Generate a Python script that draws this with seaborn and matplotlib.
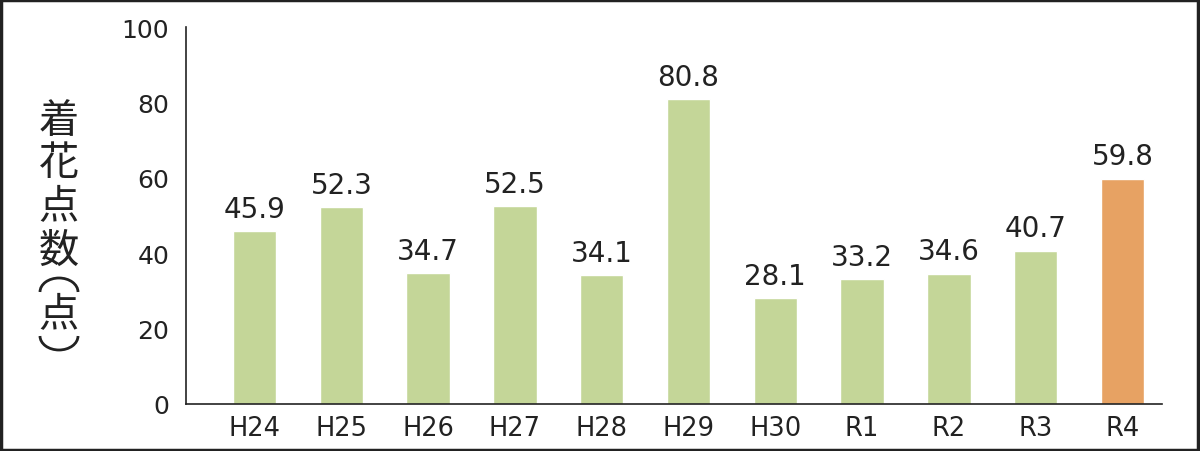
import matplotlib
matplotlib.use("Agg")
import matplotlib.pyplot as plt
import seaborn as sns
import pandas as pd
from matplotlib.patches import Rectangle, Arc

years = ["H24", "H25", "H26", "H27", "H28", "H29", "H30", "R1", "R2", "R3", "R4"]
values = [45.9, 52.3, 34.7, 52.5, 34.1, 80.8, 28.1, 33.2, 34.6, 40.7, 59.8]
ylabel_chars = ["着", "花", "点", "数", "︵", "点", "︶"]

green = "#c4d698"
orange = "#e7a263"
colors = [green] * (len(years) - 1) + [orange]

sns.set_theme(style="white")
plt.rcParams["font.family"] = ["DejaVu Sans", "Noto Sans CJK JP"]

df = pd.DataFrame({"year": years, "value": values})

fig = plt.figure(figsize=(12, 4.52), dpi=100)
ax = fig.add_axes([0.155, 0.104, 0.813, 0.834])

sns.barplot(data=df, x="year", y="value", hue="year", palette=colors,
            legend=False, width=0.5, saturation=1, ax=ax)

for i, v in enumerate(values):
    ax.text(i, v + 2.2, f"{v:.1f}", ha="center", va="bottom", fontsize=20, color="#222222")

ax.set_ylim(0, 100)
ax.set_xlim(-0.79, 10.45)
ax.set_yticks(range(0, 101, 20))
ax.tick_params(axis="y", length=0, labelsize=18, pad=12, colors="#222222")
ax.tick_params(axis="x", length=0, labelsize=18.5, pad=8, colors="#222222")
ax.set_xticks([10.45], minor=True)
ax.tick_params(axis="x", which="minor", direction="in", length=7, width=1.2, color="#222222")
ax.set_xlabel("")
ax.set_ylabel("")

for s in ["top", "right"]:
    ax.spines[s].set_visible(False)
for s in ["left", "bottom"]:
    ax.spines[s].set_color("#222222")
    ax.spines[s].set_linewidth(1.2)

# vertical y label, one character per line (pixel rows from the top);
# the vertical brackets are drawn as arcs so they always face the right way
char_rows = [121, 164, 208, 251, 293, 316, 337]
for ch, row in zip(ylabel_chars, char_rows):
    if ch == "︵":
        fig.patches.append(Arc((0.59, (452 - row) / 100), 0.38, 0.28, theta1=0, theta2=180,
                               transform=fig.dpi_scale_trans, color="#222222", linewidth=2))
    elif ch == "︶":
        fig.patches.append(Arc((0.59, (452 - row) / 100), 0.38, 0.28, theta1=180, theta2=360,
                               transform=fig.dpi_scale_trans, color="#222222", linewidth=2))
    else:
        fig.text(0.049, 1 - row / 452, ch, ha="center", va="center", fontsize=29,
                 color="#222222", family=["Noto Sans CJK JP", "DejaVu Sans"])

fig.patches.append(Rectangle((0.001, 0.002), 0.997, 0.995, transform=fig.transFigure,
                             fill=False, edgecolor="#222222", linewidth=2.5))

fig.savefig("out.png", dpi=100)
